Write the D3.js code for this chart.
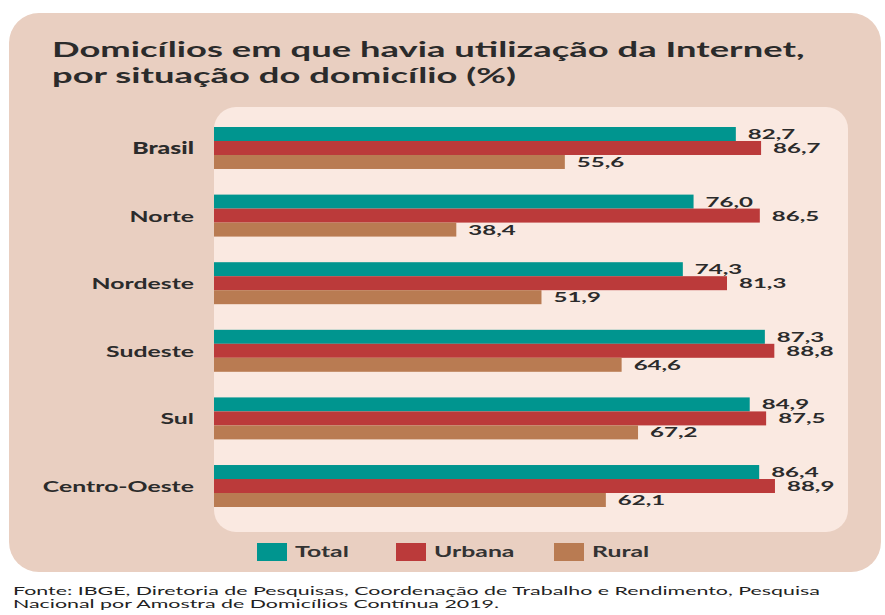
<!DOCTYPE html>
<html>
<head>
<meta charset="utf-8">
<script src="https://cdn.jsdelivr.net/npm/d3@7"></script>
<style>
  body { margin: 0; background: #fff; }
  svg { display: block; }
</style>
</head>
<body>
<div id="chart"></div>
<script>
const regions = ['Brasil', 'Norte', 'Nordeste', 'Sudeste', 'Sul', 'Centro-Oeste'];
const series = ['Total', 'Urbana', 'Rural'];
const total = [82.7, 76.0, 74.3, 87.3, 84.9, 86.4];
const urbana = [86.7, 86.5, 81.3, 88.8, 87.5, 88.9];
const rural = [55.6, 38.4, 51.9, 64.6, 67.2, 62.1];
const titleLines = ['Domicílios em que havia utilização da Internet,', 'por situação do domicílio (%)'];
const sourceLines = ['Fonte: IBGE, Diretoria de Pesquisas, Coordenação de Trabalho e Rendimento, Pesquisa',
  'Nacional por Amostra de Domicílios Contínua 2019.'];

const W = 885, H = 615;
const colors = {Total: '#00958f', Urbana: '#bb3a3a', Rural: '#b97b52'};
const ink = '#2b2b2b';

const svg = d3.select('#chart').append('svg').attr('width', W).attr('height', H);

// the reference type is wide, so glyphs get stretched horizontally
function place(sel, fx, fy, sx) {
  sel.attr('transform', (d, i) => `translate(${fx(d, i)},${fy(d, i)}) scale(${sx},1)`);
}

// outer card + inner panel
svg.append('rect').attr('x', 9).attr('y', 13).attr('width', 872).attr('height', 559)
  .attr('rx', 30).attr('fill', '#e9cfc1');
svg.append('rect').attr('x', 214).attr('y', 107).attr('width', 634).attr('height', 425)
  .attr('rx', 22).attr('fill', '#fae9e1');

const rows = regions.map((r, i) => ({region: r, values: [
  {key: 'Total', v: total[i]}, {key: 'Urbana', v: urbana[i]}, {key: 'Rural', v: rural[i]}]}));

const x = d3.scaleLinear().domain([0, 100]).range([214, 845]);
const y0 = d3.scaleBand().domain(regions).range([127, 507]).paddingInner(0.379);
const y1 = d3.scaleBand().domain(series).range([0, y0.bandwidth()]);

const g = svg.selectAll('.grp').data(rows).enter().append('g')
  .attr('class', 'grp')
  .attr('transform', d => `translate(0,${y0(d.region)})`);

g.selectAll('rect').data(d => d.values).enter().append('rect')
  .attr('x', x(0))
  .attr('y', d => y1(d.key))
  .attr('width', d => x(d.v) - x(0))
  .attr('height', y1.bandwidth())
  .attr('fill', d => colors[d.key]);

const fmt = v => v.toFixed(1).replace('.', ',');

g.selectAll('.val').data(d => d.values).enter().append('text')
  .attr('class', 'val')
  .style('font-family', 'Lato').style('font-weight', 700).style('font-size', '13.5px')
  .attr('fill', ink)
  .text(d => fmt(d.v))
  .call(place, d => x(d.v) + 12, d => y1(d.key) + y1.bandwidth() - 2, 1.78);

g.append('text')
  .attr('class', 'cat')
  .attr('text-anchor', 'end')
  .style('font-family', 'Lato').style('font-size', '16px')
  .style('font-weight', d => d.region === 'Brasil' ? 900 : 700)
  .attr('fill', ink)
  .text(d => d.region)
  .call(place, () => 194, () => y1('Urbana') + y1.bandwidth() / 2 + 6, 1.55);

// title
svg.selectAll('.title').data(titleLines).enter().append('text')
  .attr('class', 'title')
  .style('font-family', 'Lato').style('font-weight', 700).style('font-size', '20px')
  .attr('fill', ink)
  .text(d => d)
  .call(place, () => 52, (d, i) => 57 + i * 26, 1.82);

// legend
const lx = [257, 396, 554];
const lg = svg.selectAll('.leg').data(series).enter().append('g')
  .attr('transform', (d, i) => `translate(${lx[i]},543)`);
lg.append('rect').attr('width', 30).attr('height', 18).attr('fill', d => colors[d]);
lg.append('text')
  .style('font-family', 'Lato').style('font-weight', 700).style('font-size', '16px')
  .attr('fill', '#333').text(d => d)
  .call(place, () => 38, () => 14, 1.55);

// source
svg.selectAll('.src').data(sourceLines).enter().append('text')
  .attr('class', 'src')
  .style('font-family', 'Lato').style('font-size', '11.5px')
  .attr('fill', '#222')
  .text(d => d)
  .call(place, () => 13, (d, i) => 595 + i * 13, 1.86);
</script>
</body>
</html>
